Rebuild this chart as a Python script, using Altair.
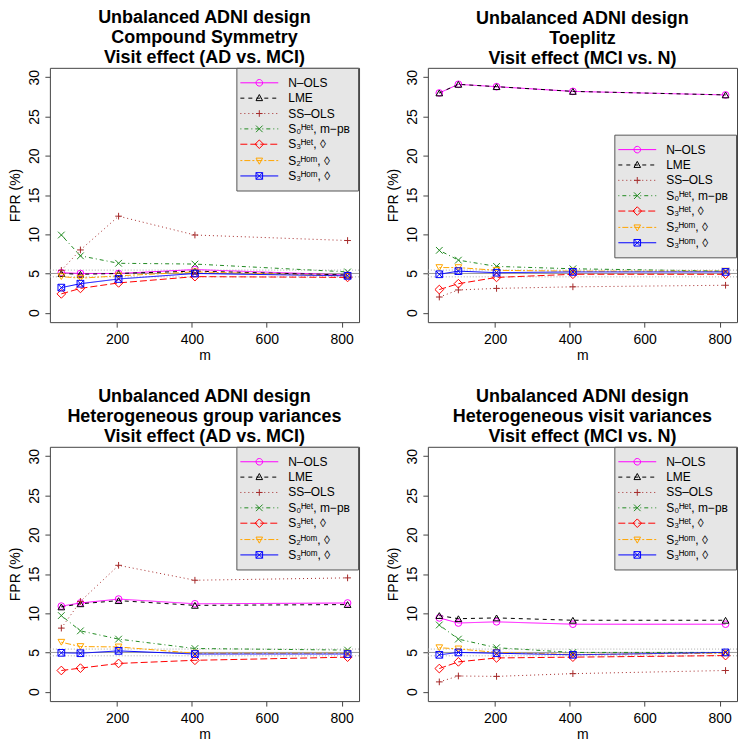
import math
import altair as alt
import pandas as pd

# ---------------- data ----------------
m_values = [51, 102, 204, 408, 816]

methods = ["N–OLS", "LME", "SS–OLS", "S₀ᴴᵉᵗ, m−pʙ", "S₃ᴴᵉᵗ, ◊", "S₂ᴴᵒᵐ, ◊", "S₃ᴴᵒᵐ, ◊"]
colors = ["#FF00FF", "#000000", "#A52A2A", "#228B22", "#FF0000", "#FFA500", "#0000FF"]

p1_nols = [5.1, 5.0, 5.0, 5.5, 4.8]
p1_lme = [5.0, 4.9, 5.0, 5.3, 4.8]
p1_ssols = [5.4, 8.0, 12.3, 9.9, 9.2]
p1_s0het = [9.9, 7.25, 6.3, 6.2, 5.2]
p1_s3het = [2.4, 3.1, 3.8, 4.6, 4.5]
p1_s2hom = [4.6, 4.4, 4.7, 5.2, 4.7]
p1_s3hom = [3.2, 3.7, 4.3, 5.0, 4.7]

p2_nols = [28.0, 29.1, 28.8, 28.2, 27.75]
p2_lme = [28.0, 29.1, 28.8, 28.2, 27.75]
p2_ssols = [2.0, 2.9, 3.1, 3.3, 3.5]
p2_s0het = [7.95, 6.7, 5.9, 5.6, 5.3]
p2_s3het = [2.95, 3.7, 4.5, 4.9, 4.9]
p2_s2hom = [5.75, 5.75, 5.4, 5.3, 5.3]
p2_s3hom = [4.9, 5.3, 5.1, 5.2, 5.2]

p3_nols = [10.9, 11.3, 11.8, 11.2, 11.3]
p3_lme = [10.8, 11.2, 11.6, 11.0, 11.1]
p3_ssols = [8.1, 11.5, 16.1, 14.2, 14.5]
p3_s0het = [9.7, 7.75, 6.7, 5.5, 5.3]
p3_s3het = [2.7, 3.0, 3.6, 4.0, 4.4]
p3_s2hom = [6.3, 5.75, 5.7, 4.9, 4.9]
p3_s3hom = [4.95, 4.9, 5.2, 4.8, 4.8]

p4_nols = [9.4, 8.75, 8.9, 8.6, 8.6]
p4_lme = [9.7, 9.3, 9.4, 9.1, 9.1]
p4_ssols = [1.25, 2.0, 1.95, 2.3, 2.7]
p4_s0het = [8.5, 6.7, 5.6, 5.0, 5.0]
p4_s3het = [2.95, 3.8, 4.3, 4.4, 4.6]
p4_s2hom = [5.6, 5.45, 5.0, 4.75, 4.9]
p4_s3hom = [4.7, 5.0, 4.9, 4.7, 5.0]

ref_levels = [4.57, 5.0, 5.43]
ref_kinds = ["ci", "nominal", "ci"]

titles = [
    ["Unbalanced ADNI design", "Compound Symmetry", "Visit effect (AD vs. MCI)"],
    ["Unbalanced ADNI design", "Toeplitz", "Visit effect (MCI vs. N)"],
    ["Unbalanced ADNI design", "Heterogeneous group variances", "Visit effect (AD vs. MCI)"],
    ["Unbalanced ADNI design", "Heterogeneous visit variances", "Visit effect (MCI vs. N)"],
]
panel_series = [
    [p1_nols, p1_lme, p1_ssols, p1_s0het, p1_s3het, p1_s2hom, p1_s3hom],
    [p2_nols, p2_lme, p2_ssols, p2_s0het, p2_s3het, p2_s2hom, p2_s3hom],
    [p3_nols, p3_lme, p3_ssols, p3_s0het, p3_s3het, p3_s2hom, p3_s3hom],
    [p4_nols, p4_lme, p4_ssols, p4_s0het, p4_s3het, p4_s2hom, p4_s3hom],
]
x_ticks = [200, 400, 600, 800]
y_ticks = [0, 5, 10, 15, 20, 25, 30]

# ---------------- styles ----------------
dashes = [[1, 0], [4, 4], [1, 3], [1, 3, 4, 3], [7, 3], [2, 2, 6, 2], [1, 0]]
point_shapes = [
    "circle",
    "triangle-up",
    "M-1,0L1,0M0,-1L0,1",
    "M-1,-1L1,1M-1,1L1,-1",
    "M0,-1.3L1.3,0L0,1.3L-1.3,0Z",
    "triangle-down",
    "M-1,-1L1,-1L1,1L-1,1ZM-1,-1L1,1M-1,1L1,-1",
]

SYM_SIZE = 169
UNIT = 6.5
CENTER = 7.0
LINE_X0, LINE_X1, MARK_X = -4.0, 34.0, 15.0
R = 3.3


def u(px):
    return round((px - CENTER) / UNIT, 3)


def line_part(pattern):
    if pattern == [1, 0]:
        return f"M{u(LINE_X0)},0L{u(LINE_X1)},0"
    out = []
    x = LINE_X0
    i = 0
    while x < LINE_X1:
        on = pattern[i % len(pattern)]
        off = pattern[(i + 1) % len(pattern)]
        x_end = min(x + on, LINE_X1)
        out.append(f"M{u(x)},0L{u(x_end)},0")
        x = x_end + off
        i += 2
    return "".join(out)


def marker_part(kind):
    rr = R / UNIT
    cu = u(MARK_X)

    def poly(pts):
        return "M" + "L".join(f"{cu + px:.3f},{py:.3f}" for px, py in pts) + "Z"

    if kind == "circle":
        return poly([(rr * math.cos(2 * math.pi * k / 16), rr * math.sin(2 * math.pi * k / 16)) for k in range(16)])
    if kind == "tri_up":
        return poly([(0, -rr * 1.1), (rr, rr * 0.75), (-rr, rr * 0.75)])
    if kind == "tri_down":
        return poly([(0, rr * 1.1), (rr, -rr * 0.75), (-rr, -rr * 0.75)])
    if kind == "plus":
        return f"M{cu - rr:.3f},0L{cu + rr:.3f},0M{cu:.3f},{-rr:.3f}L{cu:.3f},{rr:.3f}"
    if kind == "x":
        return f"M{cu - rr:.3f},{-rr:.3f}L{cu + rr:.3f},{rr:.3f}M{cu - rr:.3f},{rr:.3f}L{cu + rr:.3f},{-rr:.3f}"
    if kind == "diamond":
        d = rr * 1.3
        return poly([(0, -d), (d, 0), (0, d), (-d, 0)])
    if kind == "sqx":
        return (poly([(-rr, -rr), (rr, -rr), (rr, rr), (-rr, rr)])
                + f"M{cu - rr:.3f},{-rr:.3f}L{cu + rr:.3f},{rr:.3f}M{cu - rr:.3f},{rr:.3f}L{cu + rr:.3f},{-rr:.3f}")
    return ""


marker_kinds = ["circle", "tri_up", "plus", "x", "diamond", "tri_down", "sqx"]
legend_shapes = [line_part(d) + marker_part(k) for d, k in zip(dashes, marker_kinds)]

FONT = "Liberation Sans"
W, H = 310, 255
X_DOM = [20.4, 846.6]
Y_DOM = [-1.2, 31.2]
legend_pos = [(187, 0), (187, 67), (187, 0), (187, 0)]


def panel(idx):
    rows = []
    for meth, series in zip(methods, panel_series[idx]):
        for mv, fv in zip(m_values, series):
            rows.append({"m": mv, "fpr": fv, "method": meth})
    df = pd.DataFrame(rows)
    refdf = pd.DataFrame({"fpr": ref_levels, "kind": ref_kinds})

    xs = alt.Scale(domain=X_DOM, nice=False, zero=False)
    ys = alt.Scale(domain=Y_DOM, nice=False, zero=False)
    x_enc = alt.X("m:Q", scale=xs, axis=alt.Axis(values=x_ticks, title="m", format="d"))
    y_enc = alt.Y("fpr:Q", scale=ys,
                  axis=alt.Axis(values=y_ticks, title="FPR (%)", labelAngle=-90,
                                labelAlign="center", labelBaseline="bottom"))
    y_plain = alt.Y("fpr:Q", scale=ys)
    x_plain = alt.X("m:Q", scale=xs)

    ref_nom = alt.Chart(refdf).transform_filter("datum.kind == 'nominal'").mark_rule(
        color="#9a9a9a", strokeWidth=1).encode(y=y_enc)
    ref_ci = alt.Chart(refdf).transform_filter("datum.kind == 'ci'").mark_rule(
        color="#aaaaaa", strokeWidth=1, strokeDash=[1, 2]).encode(y=y_plain)

    lines = alt.Chart(df).mark_line(strokeWidth=1, opacity=1).encode(
        x=x_enc, y=y_plain,
        color=alt.Color("method:N", scale=alt.Scale(domain=methods, range=colors), legend=None),
        strokeDash=alt.StrokeDash("method:N", scale=alt.Scale(domain=methods, range=dashes), legend=None),
        order=alt.Order("m:Q"),
    )
    points = alt.Chart(df).mark_point(filled=False, size=45, strokeWidth=1, opacity=1).encode(
        x=x_plain, y=y_plain,
        color=alt.Color("method:N", scale=alt.Scale(domain=methods, range=colors), legend=None),
        shape=alt.Shape("method:N", scale=alt.Scale(domain=methods, range=point_shapes), legend=None),
    )
    lx, ly = legend_pos[idx]
    leg = alt.Legend(
        orient="none", legendX=lx, legendY=ly, title=None,
        symbolSize=SYM_SIZE, symbolStrokeWidth=1, symbolOpacity=1,
        symbolFillColor="transparent",
        labelOffset=30, padding=8, rowPadding=2.4,
        fillColor="#e6e6e6", strokeColor="#555555",
        labelFont=FONT, labelFontSize=12, labelColor="#000000", labelLimit=200,
    )
    legend_layer = alt.Chart(df).transform_filter("false").mark_point(
        filled=False, size=SYM_SIZE, strokeWidth=1, opacity=1).encode(
        x=x_plain, y=y_plain,
        color=alt.Color("method:N", scale=alt.Scale(domain=methods, range=colors), legend=leg),
        shape=alt.Shape("method:N", scale=alt.Scale(domain=methods, range=legend_shapes), legend=leg),
    )

    return alt.layer(ref_nom, ref_ci, lines, points, legend_layer).resolve_scale(
        color="independent", shape="independent", strokeDash="independent"
    ).properties(
        width=W, height=H,
        title=alt.TitleParams(text=titles[idx], anchor="middle", frame="group",
                              font=FONT, fontSize=18, fontWeight="bold",
                              lineHeight=20, offset=0, color="#000000"),
    )


chart = alt.vconcat(
    alt.hconcat(panel(0), panel(1), spacing=26),
    alt.hconcat(panel(2), panel(3), spacing=26),
    spacing=25,
).properties(
    padding={"left": 0, "top": 0, "right": 0, "bottom": 0},
).configure_view(
    stroke="#444444", strokeWidth=1
).configure_axis(
    domain=False, grid=False, tickSize=5, tickColor="#444444",
    labelFont=FONT, labelFontSize=14, labelColor="#000000",
    titleFont=FONT, titleFontSize=14, titleFontWeight="normal", titleColor="#000000",
).configure_axisY(
    labelPadding=3, titlePadding=5,
).configure_axisX(
    labelPadding=5, titlePadding=2,
)

chart.save("out.html", embed_options={"renderer": "svg", "actions": False})
